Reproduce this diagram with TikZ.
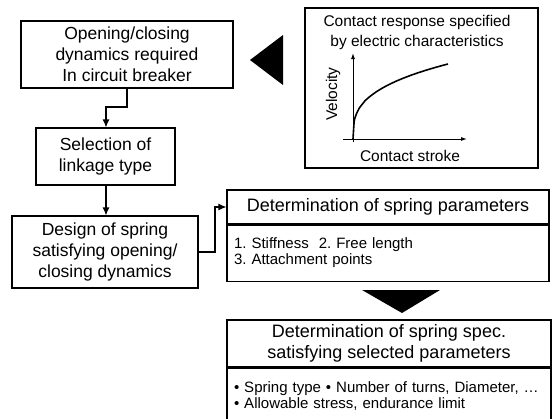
\documentclass[tikz,border=0pt]{standalone}
\usepackage{fontspec}
\setmainfont{Liberation Sans}
\usetikzlibrary{arrows.meta,positioning}
\frenchspacing

\tikzset{
  stagebox/.style={draw, line width=1.1pt, align=center, inner sep=0pt,
    font=\fontsize{17.5}{21}\selectfont},
  headbox/.style={draw, line width=1.1pt, align=center, inner sep=0pt,
    font=\fontsize{18}{21.5}\selectfont},
  listbox/.style={draw, line width=1.1pt, align=left, inner xsep=7pt, inner ysep=0pt,
    font=\fontsize{15}{16}\selectfont},
  flow/.style={line width=1.1pt, -{Latex[length=8pt,width=7pt]}},
  axis/.style={line width=1pt, -{Latex[length=6pt,width=4pt]}},
  plotlabel/.style={font=\fontsize{15.5}{20}\selectfont, align=center, inner sep=0pt},
}

\begin{document}
\begin{tikzpicture}[x=1pt,y=-1pt]
\useasboundingbox (0,0) rectangle (557,418);

% left column: design stages
\node[stagebox, minimum width=212pt, minimum height=67pt] (req) at (127,54.5)
  {Opening/closing\\dynamics required\\In circuit breaker};
\node[stagebox, minimum width=139pt, minimum height=57pt] (link) at (105.5,156.5)
  {Selection of\\linkage type};
\node[stagebox, minimum width=186pt, minimum height=72pt] (spring) at (105,252)
  {Design of spring\\satisfying opening/\\closing dynamics};

% spring parameters
\node[headbox, minimum width=322pt, minimum height=34pt] (param) at (388,207)
  {Determination of spring parameters};
\node[listbox, anchor=north west, text width=308pt, minimum height=56pt] (paramlist)
  at (param.south west) {1. Stiffness\ \ 2. Free length\\3. Attachment points};

% spring specification
\node[headbox, minimum width=324pt, minimum height=47pt] (spec) at (389,343.5)
  {Determination of spring spec.\\satisfying selected parameters};
\node[listbox, anchor=north west, text width=310pt, minimum height=55pt] (speclist)
  at (spec.south west)
  {\textbullet\ Spring type \textbullet\ Number of turns, Diameter, \dots\\
   \textbullet\ Allowable stress, endurance limit};

% contact response plot
\node[draw, line width=1.1pt, minimum width=233pt, minimum height=160pt, inner sep=0pt]
  (resp) at (421.5,88) {};
\node[plotlabel, anchor=north] (resptitle) at (417,15)
  {Contact response specified\\by electric characteristics};
\coordinate (o) at (353,139);
\coordinate (xs) at (343,139);
\coordinate (xe) at (467,139);
\coordinate (ys) at (353,142);
\coordinate (ye) at (353,53);
\draw[axis] (xs) -- (xe);
\draw[axis] (ys) -- (ye);
\draw[line width=1.6pt, domain=0:1, samples=80, smooth]
  plot ({353+95*\x},{139-75*(\x)^(0.33)});
\node[plotlabel, rotate=90] (vel) at (333,94) {Velocity};
\node[plotlabel] (stroke) at (410,156) {Contact stroke};

% large block arrows
\fill (250,60) -- (283,35) -- (283,85) -- cycle;
\fill (362,290) -- (440,290) -- (402,313) -- cycle;

% connectors
\draw[flow] (req.south -| 127,0) -- (127,107) -- (106,107) -- (link.north -| 106,0);
\draw[flow] (link.south -| 106,0) -- (spring.north -| 106,0);
\draw[flow] (spring.east) -- (215,252) -- (215,207) -- (param.west);
\end{tikzpicture}
\end{document}
